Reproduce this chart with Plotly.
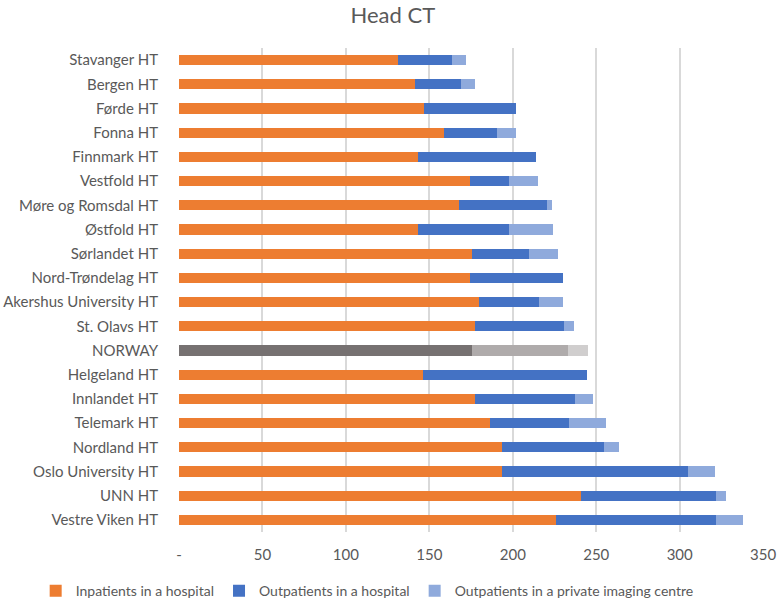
import plotly.graph_objects as go

categories = ["Stavanger HT", "Bergen HT", "Førde HT", "Fonna HT", "Finnmark HT", "Vestfold HT",
              "Møre og Romsdal HT", "Østfold HT", "Sørlandet HT", "Nord-Trøndelag HT",
              "Akershus University HT", "St. Olavs HT", "NORWAY", "Helgeland HT", "Innlandet HT",
              "Telemark HT", "Nordland HT", "Oslo University HT", "UNN HT", "Vestre Viken HT"]
inpatients = [131.3, 141.1, 146.7, 158.7, 143.1, 174.3, 167.7, 143.3, 175.3, 174.3,
              179.6, 177.1, 175.3, 146.1, 177.2, 186.2, 193.6, 193.8, 241.1, 225.7]
outpatients_hospital = [32.2, 27.8, 55.3, 31.9, 70.5, 23.7, 52.7, 54.3, 34.5, 55.8,
                        36.0, 53.6, 57.6, 98.6, 60.3, 47.3, 61.3, 111.4, 80.9, 96.1]
outpatients_private = [8.2, 8.2, 0, 11.4, 0, 17.0, 2.8, 26.6, 17.3, 0,
                       14.3, 5.8, 12.0, 0, 10.6, 22.6, 9.0, 15.7, 6.0, 15.9]
series_names = ["Inpatients in a hospital", "Outpatients in a hospital",
                "Outpatients in a private imaging centre"]
tick_vals = [0, 50, 100, 150, 200, 250, 300, 350]
tick_text = ["-", "50", "100", "150", "200", "250", "300", "350"]

base_colors = ["#ED7D31", "#4472C4", "#8FAADC"]
norway_colors = ["#767171", "#AFABAB", "#D0CECE"]

fig = go.Figure()
for vals, name, bc, nc in zip([inpatients, outpatients_hospital, outpatients_private],
                              series_names, base_colors, norway_colors):
    colors = [nc if c == "NORWAY" else bc for c in categories]
    fig.add_trace(go.Bar(y=categories, x=vals, name=name, orientation="h",
                         marker=dict(color=colors, line=dict(width=0)),
                         legendgroup=name, showlegend=False))
    # legend proxy with the series colour
    fig.add_trace(go.Bar(y=[categories[0]], x=[0], name=name, orientation="h",
                         marker=dict(color=bc, line=dict(width=0)), showlegend=True,
                         hoverinfo="skip"))

fig.update_layout(
    barmode="stack",
    bargap=0.58,
    width=778, height=601,
    margin=dict(l=179, r=14, t=48, b=69, autoexpand=False),
    paper_bgcolor="white", plot_bgcolor="white",
    font=dict(family="Lato, Open Sans, sans-serif", color="#595959"),
    title=dict(text="Head CT", x=0.505, xanchor="center", xref="container",
               y=0.988, yanchor="top", yref="container", pad=dict(t=0, b=0),
               font=dict(size=22, color="#595959")),
    legend=dict(orientation="h", xref="paper", yref="paper",
                x=-0.245, xanchor="left", y=-0.122, yanchor="middle",
                font=dict(size=14, color="#595959"), traceorder="normal",
                itemwidth=30),
)
fig.update_xaxes(range=[0, 350.5], tickvals=tick_vals, ticktext=tick_text,
                 showgrid=True, gridcolor="#D9D9D9", gridwidth=1.5, zeroline=False,
                 tickfont=dict(size=15, color="#595959"), ticks="", ticklabelstandoff=12,
                 automargin=False)
fig.update_yaxes(autorange="reversed", tickfont=dict(size=15, color="#595959"),
                 ticks="", ticklabelstandoff=20, showgrid=False, automargin=False)

fig.write_html("out.html")
